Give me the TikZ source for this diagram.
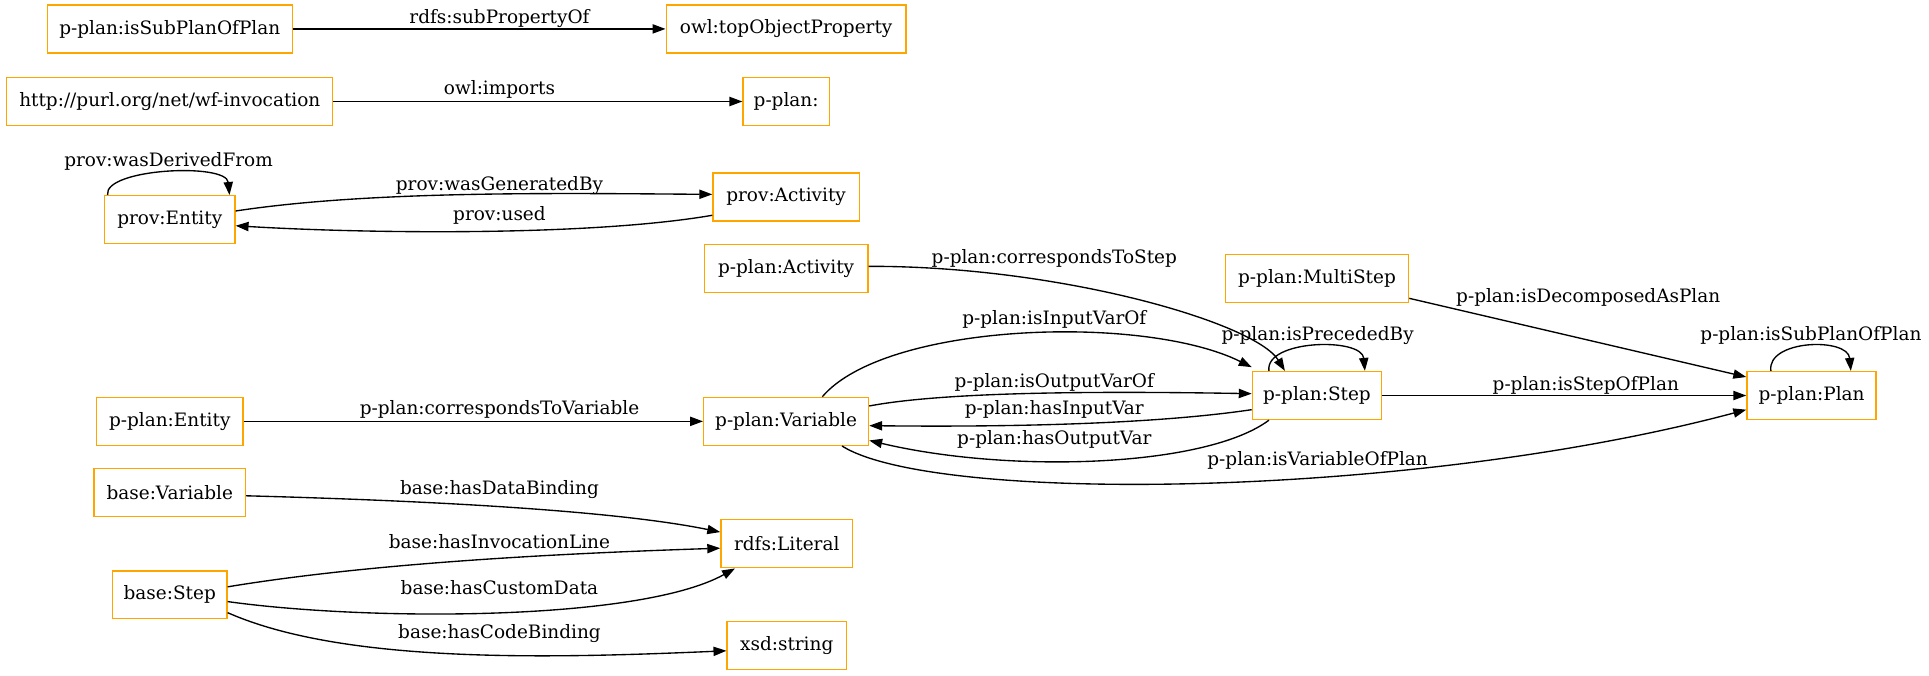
\documentclass[tikz,border=0pt]{standalone}
\usepackage{fontspec}
\setmainfont{DejaVu Serif}
\usetikzlibrary{arrows.meta,calc}
\definecolor{gvorange}{HTML}{FFA500}
\begin{document}
\begin{tikzpicture}[x=1pt,y=-1pt,
  cls/.style={draw=gvorange,line width=1.1pt,minimum height=39pt,inner sep=0pt,font=\fontsize{15}{18}\selectfont},
  lbl/.style={inner sep=0pt,font=\fontsize{15}{18}\selectfont},
  arr/.style={line width=1.1pt,-{Triangle[length=10.5pt,width=7.5pt]}}]
\fill[white] (0,0) rectangle (1568,549);
\useasboundingbox (0,0) rectangle (1568,549);
% nodes
\node[cls,minimum width=199pt] (subplan) at (138,23.5) {p-plan:isSubPlanOfPlan};
\node[cls,minimum width=195pt] (topobj) at (639,23.5) {owl:topObjectProperty};
\node[cls,minimum width=265pt] (wfinv) at (138,82.5) {http://purl.org/net/wf-invocation};
\node[cls,minimum width=70pt] (pplanns) at (639,82.5) {p-plan:};
\node[cls,minimum width=106pt] (proventity) at (138,178.5) {prov:Entity};
\node[cls,minimum width=119pt] (provact) at (639,160) {prov:Activity};
\node[cls,minimum width=133pt] (ppact) at (639,218.5) {p-plan:Activity};
\node[cls,minimum width=149pt] (multistep) at (1070.5,226.5) {p-plan:MultiStep};
\node[cls,minimum width=105pt] (step) at (1070.5,321.5) {p-plan:Step};
\node[cls,minimum width=105pt] (plan) at (1472.5,321.5) {p-plan:Plan};
\node[cls,minimum width=119pt] (ppentity) at (138,342.5) {p-plan:Entity};
\node[cls,minimum width=134pt] (variable) at (639,342.5) {p-plan:Variable};
\node[cls,minimum width=123pt] (basevar) at (138,400.5) {base:Variable};
\node[cls,minimum width=107pt] (literal) at (639.5,442) {rdfs:Literal};
\node[cls,minimum width=93pt] (basestep) at (138,483.5) {base:Step};
\node[cls,minimum width=97pt] (xsdstr) at (639.5,524.5) {xsd:string};
% edges
\draw[arr] (subplan) -- (topobj);
\node[lbl] (l1) at (406,15) {rdfs:subPropertyOf};
\draw[arr] (wfinv) -- (pplanns);
\node[lbl] (l2) at (406,73) {owl:imports};
\draw[arr] ($(proventity.north west)+(3,0)$) .. controls (84,137) and (184,132) .. ($(proventity.north east)+(-5,0)$);
\node[lbl] (l3) at (137,131) {prov:wasDerivedFrom};
\draw[arr] ($(proventity.east)+(0,-7)$) .. controls (300,155) and (450,157) .. ($(provact.west)+(0,-2)$);
\node[lbl] (l4) at (406,151) {prov:wasGeneratedBy};
\draw[arr] ($(provact.west)+(0,15)$) .. controls (480,192) and (300,190) .. ($(proventity.east)+(0,5)$);
\node[lbl] (l5) at (406,175) {prov:used};
\draw[arr] ($(ppact.east)+(0,-2)$) .. controls (860,216) and (1020,262) .. ($(step.north west)+(27,0)$);
\node[lbl] (l6) at (857,210) {p-plan:correspondsToStep};
\draw[arr] ($(multistep.east)+(0,16)$) -- ($(plan.north west)+(0,5)$);
\node[lbl] (l7) at (1291,242) {p-plan:isDecomposedAsPlan};
\draw[arr] ($(plan.north west)+(20,0)$) .. controls (1436,276) and (1502,274) .. ($(plan.north west)+(85,0)$);
\node[lbl] (l8) at (1472,273) {p-plan:isSubPlanOfPlan};
\draw[arr] ($(step.north west)+(14,0)$) .. controls (1028,276) and (1107,274) .. ($(step.north west)+(92,0)$);
\node[lbl] (l9) at (1071,273) {p-plan:isPrecededBy};
\draw[arr] (step) -- (plan);
\node[lbl] (l10) at (1289,313) {p-plan:isStepOfPlan};
\draw[arr] ($(variable.north west)+(97,0)$) .. controls (720,262) and (930,255) .. ($(step.north west)+(0,-3)$);
\node[lbl] (l11) at (857,260) {p-plan:isInputVarOf};
\draw[arr] ($(variable.east)+(0,-12.5)$) .. controls (770,318) and (900,318) .. ($(step.west)+(0,-1.5)$);
\node[lbl] (l12) at (857,311) {p-plan:isOutputVarOf};
\draw[arr] ($(step.west)+(0,11.5)$) .. controls (930,346) and (800,347) .. ($(variable.east)+(0,3.5)$);
\node[lbl] (l13) at (857,333) {p-plan:hasInputVar};
\draw[arr] ($(step.south west)+(14,0)$) .. controls (980,380) and (820,385) .. ($(variable.east)+(0,15.5)$);
\node[lbl] (l14) at (857,357) {p-plan:hasOutputVar};
\draw[arr] ($(variable.south west)+(113,0)$) .. controls (760,410) and (1150,405) .. ($(plan.west)+(0,11.5)$);
\node[lbl] (l15) at (1071,374) {p-plan:isVariableOfPlan};
\draw[arr] (ppentity) -- (variable);
\node[lbl] (l16) at (406,333) {p-plan:correspondsToVariable};
\draw[arr] ($(basevar.east)+(0,2.5)$) .. controls (350,407) and (500,415) .. ($(literal.west)+(0,-9.5)$);
\node[lbl] (l17) at (406,398) {base:hasDataBinding};
\draw[arr] ($(basestep.east)+(0,-6.5)$) .. controls (300,458) and (450,450) .. ($(literal.west)+(0,3.6)$);
\node[lbl] (l18) at (406,440) {base:hasInvocationLine};
\draw[arr] ($(basestep.east)+(0,5.5)$) .. controls (300,505) and (520,505) .. ($(literal.south west)+(12,0)$);
\node[lbl] (l19) at (406,478) {base:hasCustomData};
\draw[arr] ($(basestep.east)+(0,14.5)$) .. controls (280,540) and (450,535) .. ($(xsdstr.west)+(0,4.5)$);
\node[lbl] (l20) at (406,515) {base:hasCodeBinding};
\end{tikzpicture}
\end{document}
